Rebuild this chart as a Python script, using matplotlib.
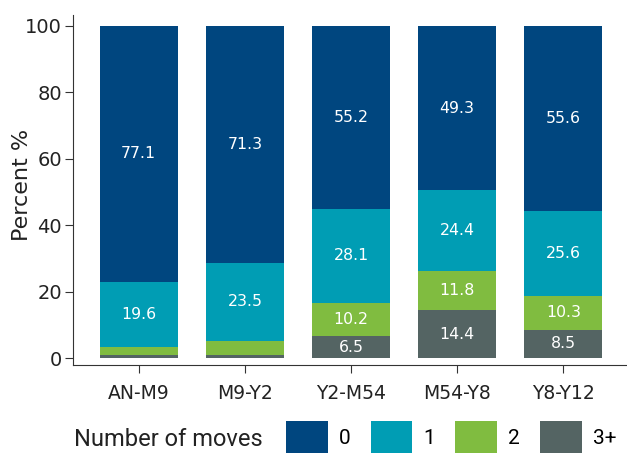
import matplotlib
matplotlib.use("Agg")
import matplotlib.pyplot as plt
from matplotlib.patches import Patch
import numpy as np

plt.rcParams['font.family'] = ['DejaVu Sans']

# data (bottom to top: 3+, 2, 1, 0)
periods = ['AN-M9', 'M9-Y2', 'Y2-M54', 'M54-Y8', 'Y8-Y12']
moves_3plus = [1.0, 1.0, 6.5, 14.4, 8.5]
moves_2 = [2.3, 4.2, 10.2, 11.8, 10.3]
moves_1 = [19.6, 23.5, 28.1, 24.4, 25.6]
moves_0 = [77.1, 71.3, 55.2, 49.3, 55.6]
series_names = ['0', '1', '2', '3+']
colors = {'0': '#00467f', '1': '#009db4', '2': '#80bc40', '3+': '#546463'}

# only the bigger segments carry a label
min_label = 5
legend_font = ['Roboto', 'DejaVu Sans']

fig = plt.figure(figsize=(6.27, 4.59), dpi=100)
ax = fig.add_axes([0.1164, 0.2048, 0.8836, 0.7625])

x = np.arange(len(periods))
width = 0.736
bottom = np.zeros(len(periods))
stack = [('3+', moves_3plus), ('2', moves_2), ('1', moves_1), ('0', moves_0)]
for name, vals in stack:
    vals = np.array(vals)
    ax.bar(x, vals, width, bottom=bottom, color=colors[name], linewidth=0)
    for xi, b, v in zip(x, bottom, vals):
        if v >= min_label:
            ax.text(xi, b + v / 2, f'{v:.1f}', ha='center', va='center',
                    color='white', fontsize=11.3)
    bottom += vals

ax.set_xlim(-0.62, 4.6)
ax.set_ylim(-2.1, 103.3)
ax.set_yticks([0, 20, 40, 60, 80, 100])
ax.set_xticks(x)
ax.set_xticklabels(periods)
ax.tick_params(axis='y', labelsize=14, length=6, width=0.8, color='#333333', pad=2)
ax.tick_params(axis='x', labelsize=13.5, length=6, width=0.8, color='#333333', pad=8)
ax.set_ylabel('Percent %', fontsize=16, color='#222222')
ax.yaxis.set_label_coords(-0.074, 0.514)
for lab in ax.get_yticklabels() + ax.get_xticklabels():
    lab.set_color('#222222')

for side in ['top', 'right']:
    ax.spines[side].set_visible(False)
for side in ['left', 'bottom']:
    ax.spines[side].set_color('#333333')
    ax.spines[side].set_linewidth(0.8)

# legend with the title written to its left
handles = [Patch(facecolor=colors[n], edgecolor='none', label=n) for n in series_names]
fig.legend(handles=handles, loc='center left', bbox_to_anchor=(286 / 627, 1 - 437 / 459),
           ncol=4, frameon=False, prop={'family': legend_font, 'size': 15},
           handlelength=2.0, handleheight=2.0,
           handletextpad=0.55, columnspacing=0.95, borderpad=0, borderaxespad=0)
fig.text(263 / 627, 1 - 440 / 459, 'Number of moves', ha='right', va='center',
         fontsize=17, color='#222222', family=legend_font)

fig.savefig('out.png', dpi=100)
